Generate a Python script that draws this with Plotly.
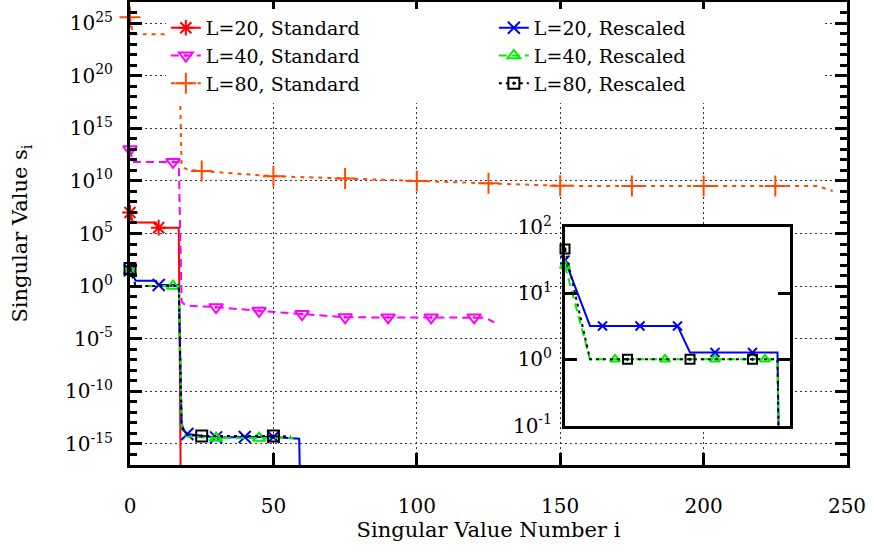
import plotly.graph_objects as go

# ---------------- data ----------------
# index i of the singular value (curve vertices) and the singular value s_i
L20_STD_I = [0, 1, 9, 10, 17, 18]
L20_STD_S = [1.0e7, 1.12e6, 1.12e6, 3.6e5, 3.6e5, 1.0e-30]

L40_STD_I = [0, 1, 15, 17, 18, 19, 20, 30, 45, 60, 75, 90, 105, 120, 123, 125, 127]
L40_STD_S = [1.0e13, 6.3e11, 6.3e11, 6.3e11, 3.5e-2, 1.8e-2, 1.4e-2, 1.0e-2, 4.5e-3,
             2.2e-3, 1.1e-3, 1.05e-3, 1.05e-3, 1.05e-3, 1.0e-3, 7.0e-4, 3.5e-4]

L80_STD_I = [0, 1, 17, 18, 19, 20, 25, 50, 75, 100, 125, 150, 175, 200, 225, 240, 242, 245]
L80_STD_S = [3.6e25, 8.7e23, 8.7e23, 2.5e11, 1.6e11, 1.26e11, 8.5e10, 2.8e10, 1.7e10,
             1.0e10, 6.0e9, 3.4e9, 3.2e9, 3.2e9, 3.2e9, 3.2e9, 2.0e9, 1.1e9]

L20_RES_I = [0, 1, 2, 3, 6, 9, 10, 12, 15, 17, 18, 19, 20, 30, 40, 50, 59, 60]
L20_RES_S = [31.6, 10.0, 3.2, 3.2, 3.2, 3.2, 1.27, 1.27, 1.27, 1.27, 8.0e-14, 1.6e-14,
             8.7e-15, 4.2e-15, 4.5e-15, 4.5e-15, 3.2e-15, 1.0e-30]

L40_RES_I = [0, 1, 2, 4, 8, 12, 15, 16, 17, 18, 19, 20, 30, 45, 57]
L40_RES_S = [26.0, 5.0, 1.0, 1.0, 1.0, 1.0, 1.0, 1.0, 1.0, 6.0e-14, 8.0e-15, 5.0e-15,
             3.6e-15, 3.6e-15, 3.6e-15]

L80_RES_I = [0, 1, 2, 5, 10, 15, 17, 18, 19, 20, 25, 50, 56]
L80_RES_S = [46.5, 6.8, 1.0, 1.0, 1.0, 1.0, 1.0, 6.0e-14, 1.2e-14, 7.0e-15, 5.6e-15,
             5.6e-15, 5.0e-15]

# indices at which point symbols are drawn (main plot / inset)
L20_STD_MARKS = [0, 10]
L40_STD_MARKS = [0, 15, 30, 45, 60, 75, 90, 105, 120]
L80_STD_MARKS = [0, 25, 50, 75, 100, 125, 150, 175, 200, 225]
L20_RES_MARKS = [0, 10, 20, 30, 40, 50]
L40_RES_MARKS = [0, 15, 30, 45]
L80_RES_MARKS = [0, 25, 50]
L20_RES_INSET_MARKS = [0, 3, 6, 9, 12, 15]
L40_RES_INSET_MARKS = [0, 4, 8, 12, 16]
L80_RES_INSET_MARKS = [0, 5, 10, 15]

SERIES_NAMES = ["L=20, Standard", "L=40, Standard", "L=80, Standard",
                "L=20, Rescaled", "L=40, Rescaled", "L=80, Rescaled"]

X_TICKS = [0, 50, 100, 150, 200, 250]
Y_TICKS = [1e-15, 1e-10, 1e-5, 1e0, 1e5, 1e10, 1e15, 1e20, 1e25]
Y_TICK_TEXT = ["10<sup>-15</sup>", "10<sup>-10</sup>", "10<sup>-5</sup>", "10<sup>0</sup>",
               "10<sup>5</sup>", "10<sup>10</sup>", "10<sup>15</sup>", "10<sup>20</sup>",
               "10<sup>25</sup>"]
INSET_Y_TICKS = [0.1, 1, 10, 100]
INSET_Y_TICK_TEXT = ["10<sup>-1</sup>", "10<sup>0</sup>", "10<sup>1</sup>", "10<sup>2</sup>"]

# ---------------- styling ----------------
FONT = "DejaVu Serif"
STYLES = {
    "L=20, Standard": dict(color="#ff0000", dash="solid", symbol="asterisk-open", size=13, rank=1),
    "L=40, Standard": dict(color="#ff00ff", dash="8px,5px", symbol="triangle-down-open-dot", size=12, rank=3),
    "L=80, Standard": dict(color="#ff4a00", dash="4px,5px", symbol="cross-thin-open", size=15, rank=5),
    "L=20, Rescaled": dict(color="#0000ff", dash="solid", symbol="x-thin-open", size=12, rank=2),
    "L=40, Rescaled": dict(color="#00ee00", dash="8px,5px", symbol="triangle-up-open", size=11, rank=4),
    "L=80, Rescaled": dict(color="#000000", dash="3px,4px", symbol="square-open-dot", size=11, rank=6),
}

fig = go.Figure()


def pick(xs, ys, marks):
    mx = [x for x in xs if x in marks]
    my = [y for x, y in zip(xs, ys) if x in marks]
    return mx, my


def add_series(name, xs, ys, marks, xa="x", ya="y", msize=None, legend=False):
    st = STYLES[name]
    size = msize if msize else st["size"]
    fig.add_trace(go.Scatter(
        x=xs, y=ys, mode="lines", xaxis=xa, yaxis=ya, showlegend=False, hoverinfo="skip",
        line=dict(color=st["color"], width=2, dash=st["dash"])))
    mx, my = pick(xs, ys, marks)
    fig.add_trace(go.Scatter(
        x=mx, y=my, mode="markers", xaxis=xa, yaxis=ya, showlegend=False, cliponaxis=False,
        hoverinfo="skip",
        marker=dict(symbol=st["symbol"], size=size, color=st["color"],
                    line=dict(color=st["color"], width=2))))
    if legend:
        fig.add_trace(go.Scatter(
            x=[None], y=[None], mode="lines+markers", name=name, legendrank=st["rank"],
            line=dict(color=st["color"], width=2, dash=st["dash"]),
            marker=dict(symbol=st["symbol"], size=st["size"], color=st["color"],
                        line=dict(color=st["color"], width=2))))


main_data = [
    (L20_STD_I, L20_STD_S, L20_STD_MARKS),
    (L40_STD_I, L40_STD_S, L40_STD_MARKS),
    (L80_STD_I, L80_STD_S, L80_STD_MARKS),
    (L20_RES_I, L20_RES_S, L20_RES_MARKS),
    (L40_RES_I, L40_RES_S, L40_RES_MARKS),
    (L80_RES_I, L80_RES_S, L80_RES_MARKS),
]
for name, (xs, ys, mk) in zip(SERIES_NAMES, main_data):
    add_series(name, xs, ys, mk, legend=True)

inset_data = [
    (L20_RES_I, L20_RES_S, L20_RES_INSET_MARKS),
    (L40_RES_I, L40_RES_S, L40_RES_INSET_MARKS),
    (L80_RES_I, L80_RES_S, L80_RES_INSET_MARKS),
]
for name, (xs, ys, mk) in zip(SERIES_NAMES[3:], inset_data):
    add_series(name, xs, ys, mk, xa="x2", ya="y2", msize=9)

MINOR_Y = [10.0 ** k for k in range(-17, 28)]

fig.update_layout(
    width=874, height=552,
    margin=dict(l=130, r=27, t=2, b=87),
    paper_bgcolor="white", plot_bgcolor="white",
    font=dict(family=FONT, size=20, color="black"),
    showlegend=True,
    legend=dict(orientation="h", x=0.05, xanchor="left", y=0.985, yanchor="top",
                entrywidth=283, entrywidthmode="pixels", bgcolor="white", borderwidth=0,
                font=dict(family=FONT, size=19, color="black"), tracegroupgap=0),
    xaxis=dict(domain=[0, 1], range=[0, 250], anchor="y", tickmode="array", tickvals=X_TICKS,
               ticks="inside", ticklen=12, tickwidth=3, tickcolor="black",
               showline=True, linewidth=3, linecolor="black", mirror="allticks",
               showgrid=True, gridcolor="#333333", griddash="2px,3px", gridwidth=1,
               zeroline=False, ticklabelstandoff=21, automargin=False,
               tickfont=dict(family=FONT, size=20),
               title=dict(text="Singular Value Number i", standoff=4,
                          font=dict(family=FONT, size=21))),
    yaxis=dict(domain=[0, 1], type="log", range=[-17, 27], anchor="x",
               tickmode="array", tickvals=Y_TICKS, ticktext=Y_TICK_TEXT,
               ticks="inside", ticklen=12, tickwidth=3, tickcolor="black",
               showline=True, linewidth=3, linecolor="black", mirror="allticks",
               showgrid=True, gridcolor="#333333", griddash="2px,3px", gridwidth=1,
               zeroline=False, ticklabelstandoff=10, automargin=False,
               tickfont=dict(family=FONT, size=20),
               minor=dict(tickmode="array", tickvals=MINOR_Y, ticks="inside", ticklen=7,
                          tickwidth=3, tickcolor="black", showgrid=False),
               title=dict(text="Singular Value s<sub>i</sub>", standoff=32,
                          font=dict(family=FONT, size=21))),
    xaxis2=dict(domain=[0.6067, 0.9205], range=[0, 18], anchor="y2", automargin=False,
                showticklabels=False, ticks="", showline=True, linewidth=3,
                linecolor="black", mirror=True, showgrid=False, zeroline=False),
    yaxis2=dict(domain=[0.0853, 0.514], type="log", range=[-1, 2], anchor="x2",
                tickmode="array", tickvals=INSET_Y_TICKS, ticktext=INSET_Y_TICK_TEXT,
                ticks="inside", ticklen=12, tickwidth=3, tickcolor="black",
                showline=True, linewidth=3, linecolor="black", mirror="allticks",
                showgrid=False, zeroline=False, ticklabelstandoff=6, automargin=False,
                tickfont=dict(family=FONT, size=20)),
)

# remove the browser's default 8px page margin so the figure sits at the window origin
fig.write_html("out.html", config={"displayModeBar": False},
               post_script="document.body.style.margin='0';")
